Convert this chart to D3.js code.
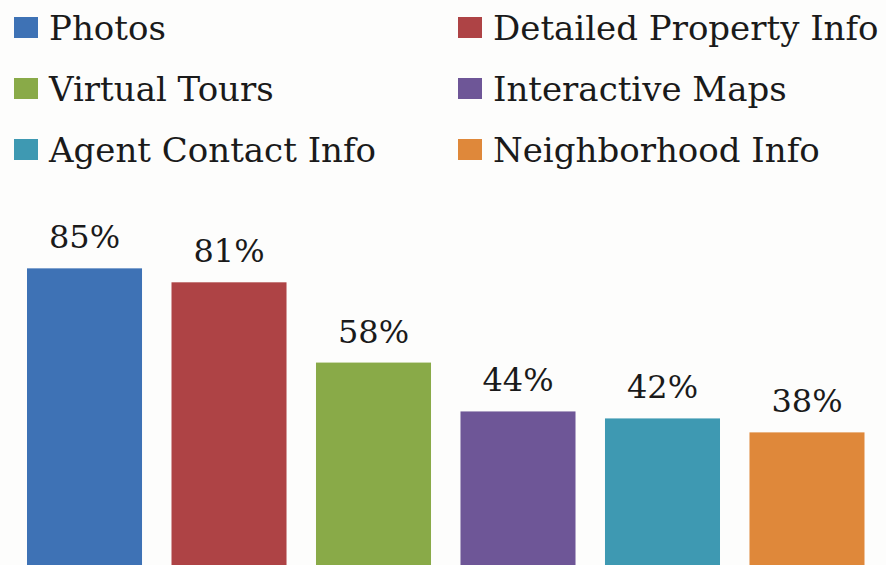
<!DOCTYPE html>
<html>
<head>
<meta charset="utf-8">
<script src="https://cdn.jsdelivr.net/npm/d3@7"></script>
<style>
  body { margin: 0; background: #fdfdfc; }
  svg { display: block; }
  text { font-family: "DejaVu Serif", serif; fill: #1a1a1a; }
</style>
</head>
<body>
<div id="chart-area"></div>
<script>
let width = 886, height = 565;

// Data
let categories = ["Photos", "Detailed Property Info", "Virtual Tours",
	"Interactive Maps", "Agent Contact Info", "Neighborhood Info"];
let values = [85, 81, 58, 44, 42, 38];
let colors = ["#3e72b5", "#ae4345", "#89aa48", "#6e5697", "#3e99b2", "#df883a"];

// legend goes in two columns, read row by row
let legendOrder = [0, 1, 2, 3, 4, 5];

let svg = d3.select("#chart-area")
	.append("svg")
	.attr("width", width)
	.attr("height", height);

let color = d3.scaleOrdinal(colors).domain(categories);

// Scales
let x = d3.scaleBand()
	.domain(categories)
	.range([27, 864.5])
	.paddingInner(0.204)
	.paddingOuter(0);

let y = d3.scaleLinear()
	.domain([0, 100])
	.range([565, 216]);

// Legend
let legend = svg.append("g");
legendOrder.forEach((idx, i) => {
	let col = i % 2, row = Math.floor(i / 2);
	let legendRow = legend.append("g")
		.attr("transform", "translate(" + (14 + col * 444) + ", " + (17 + row * 61) + ")");

	legendRow.append("rect")
		.attr("width", 24)
		.attr("height", 21)
		.attr("fill", color(categories[idx]));

	legendRow.append("text")
		.attr("x", 35)
		.attr("y", 23)
		.attr("font-size", "34px")
		.text(categories[idx]);
});

// Bars
svg.selectAll("rect.bar")
	.data(categories)
	.enter()
	.append("rect")
	.attr("class", "bar")
	.attr("x", (d) => x(d))
	.attr("width", x.bandwidth())
	.attr("y", (d, i) => y(values[i]))
	.attr("height", (d, i) => y(0) - y(values[i]))
	.attr("fill", (d) => color(d));

// Value labels
svg.selectAll("text.label")
	.data(categories)
	.enter()
	.append("text")
	.attr("class", "label")
	.attr("x", (d) => x(d) + x.bandwidth() / 2)
	.attr("y", (d, i) => y(values[i]) - 20)
	.attr("text-anchor", "middle")
	.attr("font-size", "32px")
	.text((d, i) => values[i] + "%");
</script>
</body>
</html>
